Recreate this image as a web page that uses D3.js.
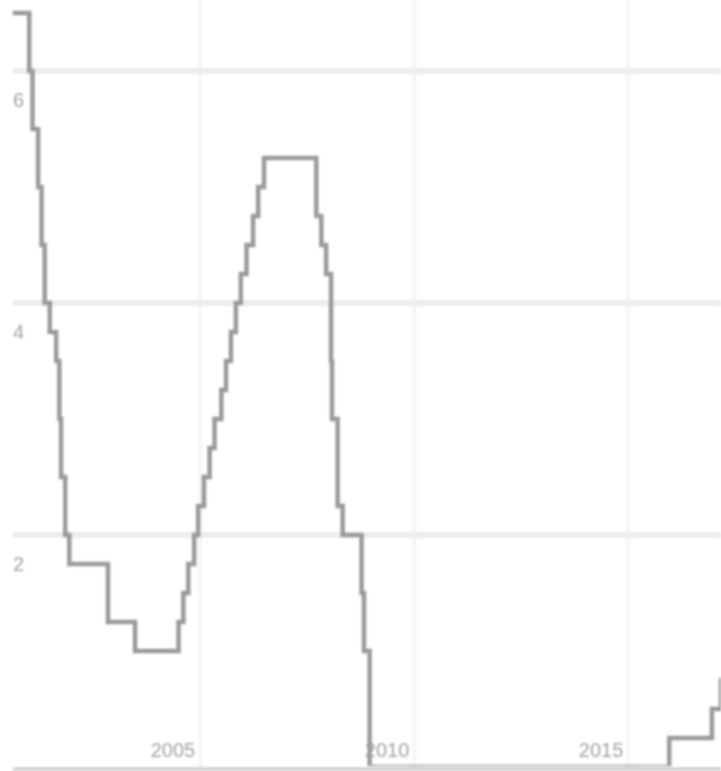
<!DOCTYPE html>
<html>
<head>
<meta charset="utf-8">
<script src="https://cdn.jsdelivr.net/npm/d3@7"></script>
<style>
	html, body { margin:0; padding:0; background:#fff; }
	svg { display:block; filter:blur(1px); }
	.tick-label { font-family:"Liberation Sans", Arial, sans-serif; font-size:20px; fill:#a0a0a0; }
</style>
</head>
<body>
<div id="chart"></div>
<script>
// lower bound of the policy rate, date of each change
var rateDates = ['2000-08-15','2001-01-03','2001-01-31','2001-03-20','2001-04-18','2001-05-15','2001-06-27',
	'2001-08-21','2001-09-17','2001-10-02','2001-11-06','2001-12-11','2002-11-06','2003-06-25',
	'2004-06-30','2004-08-10','2004-09-21','2004-11-10','2004-12-14','2005-02-02','2005-03-22',
	'2005-05-03','2005-06-30','2005-08-09','2005-09-20','2005-11-01','2005-12-13','2006-01-31',
	'2006-03-28','2006-05-10','2006-06-29','2007-09-18','2007-10-31','2007-12-11','2008-01-22',
	'2008-01-30','2008-03-18','2008-04-30','2008-10-08','2008-10-29','2008-12-16','2015-12-16',
	'2016-12-14','2017-03-01','2017-06-01'];
var rateValues = [6.5,6.0,5.5,5.0,4.5,4.0,3.75,
	3.5,3.0,2.5,2.0,1.75,1.25,1.0,
	1.25,1.5,1.75,2.0,2.25,2.5,2.75,
	3.0,3.25,3.5,3.75,4.0,4.25,4.5,
	4.75,5.0,5.25,4.75,4.5,4.25,3.5,
	3.0,2.25,2.0,1.5,1.0,0,0.25,
	0.5,0.75,0.75];
var yTicks = [2, 4, 6];
var xTicks = [2005, 2010, 2015];

var width = 721, height = 771;
var parse = d3.timeParse('%Y-%m-%d');
var data = rateDates.map(function(d, i){ return {date: parse(d), value: rateValues[i]}; });

var x = d3.scaleTime()
	.domain([new Date(2001, 0, 1), new Date(2017, 0, 1)])
	.range([29, 714]);
var y = d3.scaleLinear()
	.domain([0, 6.5])
	.range([767, 13]);

var svg = d3.select('#chart')
	.append('svg')
	.attr('width', width)
	.attr('height', height);

svg.append('defs')
	.append('clipPath')
	.attr('id', 'plot')
	.append('rect')
	.attr('x', 0)
	.attr('y', 0)
	.attr('width', width)
	.attr('height', y(0) - 1);

// vertical grid
svg.append('g')
	.selectAll('line')
	.data(xTicks)
	.join('line')
	.attr('x1', function(d){ return x(new Date(d, 0, 1)); })
	.attr('x2', function(d){ return x(new Date(d, 0, 1)); })
	.attr('y1', 0)
	.attr('y2', y(0))
	.attr('stroke', '#f6f6f6')
	.attr('stroke-width', 4);

// horizontal grid
svg.append('g')
	.selectAll('line')
	.data(yTicks)
	.join('line')
	.attr('x1', 13)
	.attr('x2', width)
	.attr('y1', function(d){ return y(d); })
	.attr('y2', function(d){ return y(d); })
	.attr('stroke', '#ececec')
	.attr('stroke-width', 6);

svg.append('g')
	.selectAll('text')
	.data(yTicks)
	.join('text')
	.attr('class', 'tick-label')
	.attr('x', 13)
	.attr('y', function(d){ return y(d) + 36; })
	.text(function(d){ return d; });

svg.append('g')
	.selectAll('text')
	.data(xTicks)
	.join('text')
	.attr('class', 'tick-label')
	.attr('text-anchor', 'end')
	.attr('x', function(d){ return x(new Date(d, 0, 1)) - 5; })
	.attr('y', 757)
	.text(function(d){ return d; });

var line = d3.line()
	.curve(d3.curveStepAfter)
	.x(function(d){ return x(d.date); })
	.y(function(d){ return y(d.value); });

svg.append('path')
	.datum(data)
	.attr('clip-path', 'url(#plot)')
	.attr('d', line)
	.attr('fill', 'none')
	.attr('stroke', '#9a9a9e')
	.attr('stroke-width', 4.5)
	.attr('stroke-linejoin', 'miter');

// baseline
svg.append('line')
	.attr('x1', 13)
	.attr('x2', width)
	.attr('y1', 769)
	.attr('y2', 769)
	.attr('stroke', '#d4d4d4')
	.attr('stroke-width', 4);
</script>
</body>
</html>
